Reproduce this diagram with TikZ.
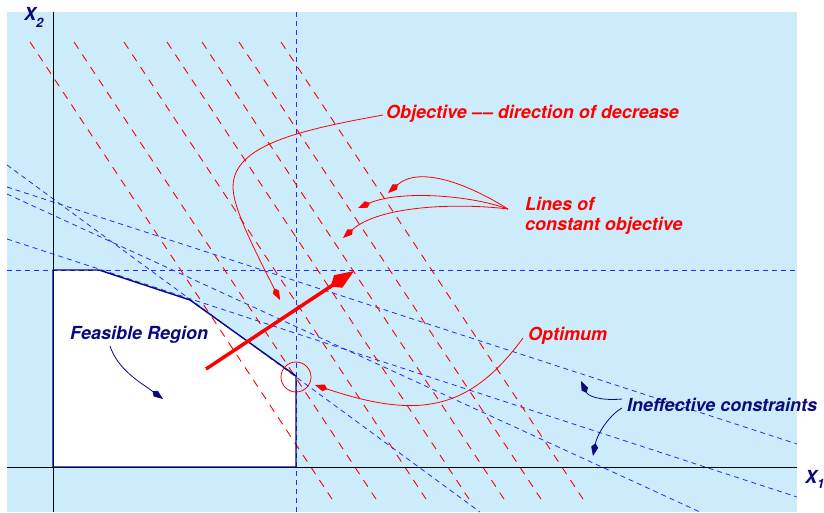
\documentclass[tikz,border=0pt]{standalone}
\usepackage{fontspec}
\setmainfont{TeX Gyre Heros}
\usetikzlibrary{arrows.meta}
\definecolor{bgblue}{RGB}{204,235,251}
\definecolor{navy}{RGB}{10,10,128}
\definecolor{dblue}{RGB}{40,40,255}
\definecolor{rred}{RGB}{255,0,0}
\begin{document}
\begin{tikzpicture}[x=1pt,y=-1pt,
  lbl/.style={font=\fontsize{18}{21}\selectfont\bfseries\itshape, inner sep=0pt, anchor=base west},
  redlbl/.style={lbl,text=rred},
  bluelbl/.style={lbl,text=navy},
  objline/.style={rred,line width=0.9pt,dash pattern=on 8pt off 7pt},
  conline/.style={dblue,line width=0.8pt,dash pattern=on 5pt off 4pt},
  axisline/.style={black,line width=0.8pt},
  smallkite/.style={-{Kite[length=13pt,width=7pt,inset=4pt]}},
  redann/.style={rred,line width=0.8pt,smallkite},
  blueann/.style={navy,line width=0.8pt,smallkite},
]
\useasboundingbox (0,0) rectangle (824,512);
\fill[bgblue] (7,12) rectangle (797,512);
% feasible region corners
\coordinate (p1) at (53,270);
\coordinate (p2) at (99,270);
\coordinate (p3) at (190,300);
\coordinate (p4) at (296,376);
\coordinate (p5) at (296,467);
\coordinate (p6) at (53,467);
\begin{scope}
  \clip (7,12) rectangle (797,512);
  \fill[white] (p1) -- (p2) -- (p3) -- (p4) -- (p5) -- (p6) -- cycle;
  % constraints
  \draw[conline] (7,270) -- (797,270);
  \draw[conline] (296,12) -- (296,512);
  \draw[conline] (7,165) -- (480,512);
  \draw[conline] (7,239) -- (797,497);
  \draw[conline] (7,187) -- (797,444);
  \draw[conline] (7,194) -- (700,512);
  % objective lines
  \foreach \x in {30,74,124,167,202,239,281}
    \draw[objline] (\x,42) -- ++(302,457);
  % axes
  \draw[axisline] (53,12) -- (53,512);
  \draw[axisline] (7,467) -- (797,467);
\end{scope}
\draw[navy,line width=1.4pt,line join=round] (p1) -- (p2) -- (p3) -- (p4) -- (p5) -- (p6) -- cycle;
% optimum circle
\node[draw=rred,circle,minimum size=30pt,inner sep=0pt,line width=0.8pt] (optc) at (296,377) {};
% objective direction arrow
\coordinate (arrS) at (206,369);
\coordinate (arrE) at (354,271);
\draw[rred,line width=3.5pt,-{Kite[length=28pt,width=15pt,inset=9pt]}] (arrS) -- (arrE);
% labels
\node[bluelbl] (x2lbl) at (24,20) {X\raisebox{-7pt}{\fontsize{13}{13}\selectfont 2}};
\node[bluelbl] (x1lbl) at (805,483) {X\raisebox{-5pt}{\fontsize{13}{13}\selectfont 1}};
\node[redlbl] (objtxt) at (386,118) {Objective \textendash\kern1pt\textendash\ direction of decrease};
\node[redlbl] (lines1) at (525,210) {Lines of};
\node[redlbl] (lines2) at (525,230) {constant objective};
\node[redlbl] (opttxt) at (528,340) {Optimum};
\node[bluelbl] (inetxt) at (627,411) {Ineffective constraints};
\node[bluelbl] (featxt) at (70,339) {Feasible Region};
% annotation connectors
\coordinate (objS) at (383,115);
\coordinate (objM) at (233,187);
\coordinate (objE) at (280,300);
\draw[redann] (objS) .. controls (300,130) and (233,145) .. (objM) .. controls (233,207) and (252,245) .. (objE);
\coordinate (linS) at (508,209);
\coordinate (linA) at (388,193);
\coordinate (linB) at (358,208);
\coordinate (linC) at (343,238);
\draw[redann] (linS) .. controls (470,185) and (420,165) .. (linA);
\draw[redann] (linS) .. controls (470,195) and (400,190) .. (linB);
\draw[redann] (linS) .. controls (460,203) and (380,205) .. (linC);
\coordinate (optS) at (523,338);
\coordinate (optE) at (315,385);
\draw[redann] (optS) .. controls (470,410) and (420,420) .. (optE);
\coordinate (ineS1) at (622,399);
\coordinate (ineE1) at (581,381);
\coordinate (ineS2) at (622,408);
\coordinate (ineE2) at (593,456);
\draw[blueann] (ineS1) .. controls (600,401) and (588,396) .. (ineE1);
\draw[blueann] (ineS2) .. controls (608,416) and (597,435) .. (ineE2);
\coordinate (feaS) at (110,346);
\coordinate (feaE) at (163,399);
\draw[blueann] (feaS) .. controls (118,370) and (140,382) .. (feaE);
\end{tikzpicture}
\end{document}
